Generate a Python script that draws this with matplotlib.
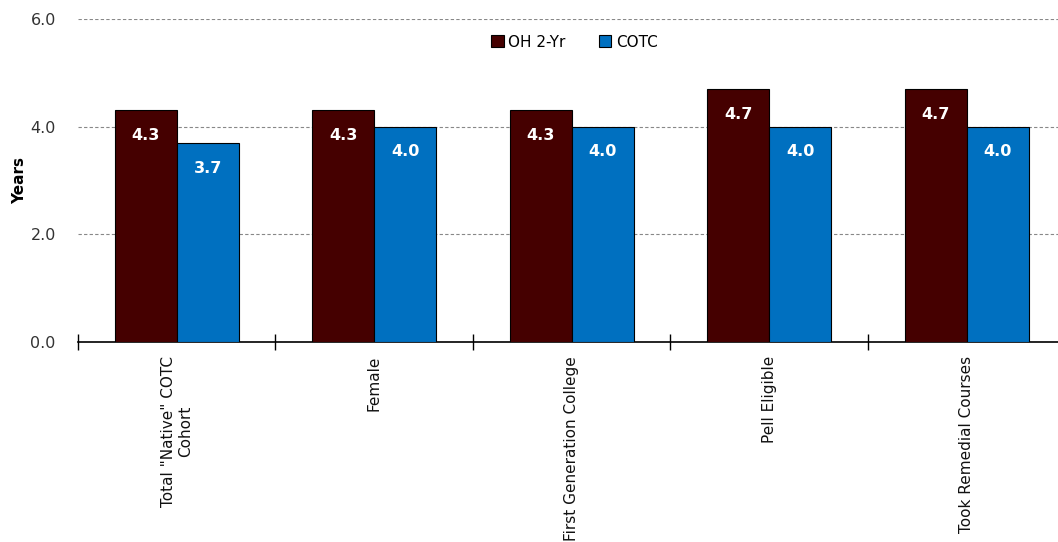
import matplotlib
matplotlib.use("Agg")
import matplotlib.pyplot as plt
import numpy as np

categories = ['Total "Native" COTC\nCohort', "Female", "First Generation College",
              "Pell Eligible", "Took Remedial Courses"]
oh_2yr = [4.3, 4.3, 4.3, 4.7, 4.7]
cotc = [3.7, 4.0, 4.0, 4.0, 4.0]
series_names = ["OH 2-Yr", "COTC"]
colors = ["#450000", "#0070C0"]

plt.rcParams["font.family"] = ["DejaVu Sans"]

fig = plt.figure(figsize=(10.58, 5.42), dpi=100)
# the plot runs slightly past the right edge of the canvas
ax = fig.add_axes([0.0737, 0.369, 0.9334, 0.596])

x = np.arange(len(categories))
w = 0.314
bars1 = ax.bar(x - w / 2, oh_2yr, w, color=colors[0], edgecolor="black", linewidth=0.8,
               label=series_names[0], zorder=3)
bars2 = ax.bar(x + w / 2, cotc, w, color=colors[1], edgecolor="black", linewidth=0.8,
               label=series_names[1], zorder=3)

for bars, vals in ((bars1, oh_2yr), (bars2, cotc)):
    for b, v in zip(bars, vals):
        ax.text(b.get_x() + b.get_width() / 2, v - 0.47, f"{v:.1f}", ha="center",
                va="center", color="white", fontsize=11.5, fontweight="bold", zorder=4)

ax.set_xlim(-0.5, len(categories) - 0.5)
ax.set_ylim(0, 6)
ax.set_yticks([0, 2, 4, 6])
ax.set_yticklabels(["0.0", "2.0", "4.0", "6.0"], fontsize=11.5, color="#333333")
ax.yaxis.grid(True, linestyle=(0, (3, 2)), color="#888888", linewidth=0.8, zorder=0)
ax.tick_params(axis="y", length=0, pad=16)

# category labels at group centres, tick marks at group boundaries
ax.set_xticks(x)
ax.set_xticklabels(categories, rotation=90, fontsize=11, va="top", ha="center",
                   multialignment="center", color="#111111")
ax.tick_params(axis="x", which="major", length=0, pad=10)
ax.set_xticks(np.arange(-0.5, len(categories) + 0.5, 1), minor=True)
ax.tick_params(axis="x", which="minor", length=12, direction="inout", width=1)

for s in ("top", "right", "left"):
    ax.spines[s].set_visible(False)
ax.spines["bottom"].set_linewidth(1.2)

ax.set_ylabel("Years", fontsize=11, fontweight="bold", labelpad=2)

ax.legend(loc="center", bbox_to_anchor=(0.543, 0.9225), bbox_transform=fig.transFigure,
          ncol=2, frameon=False, fontsize=11, handlelength=0.8, handleheight=0.8,
          handletextpad=0.3, columnspacing=2.2)

fig.savefig("out.png", dpi=100)
